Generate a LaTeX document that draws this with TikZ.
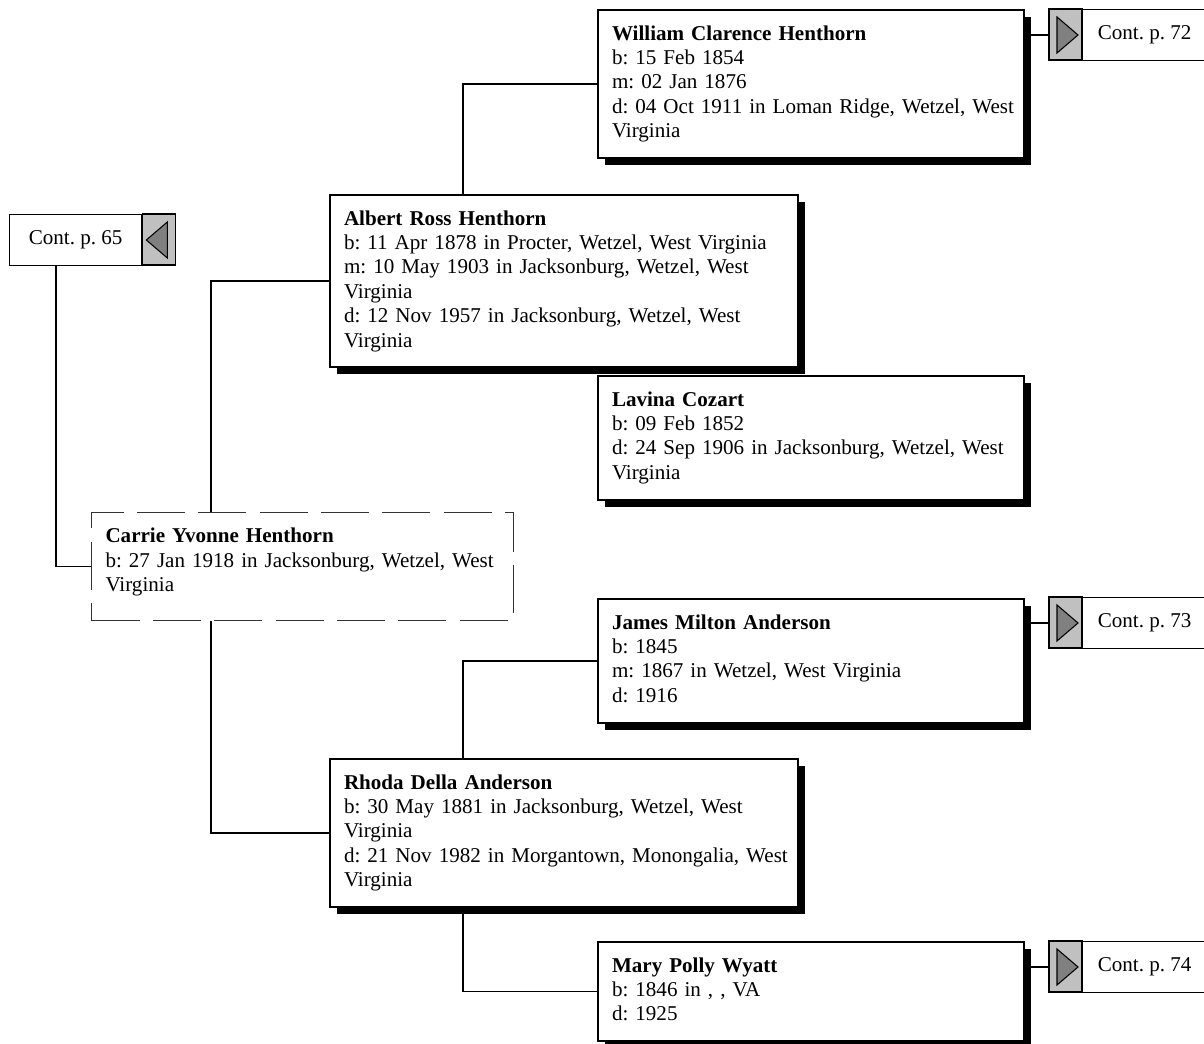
\documentclass[tikz,border=0pt]{standalone}
\usepackage{fontspec}
\setmainfont{Liberation Serif}
\usetikzlibrary{shadows, backgrounds, calc}
\definecolor{ContGray}{RGB}{192,192,192}
\definecolor{ArrowGray}{RGB}{128,128,128}
\newcommand{\facts}[1]{\begin{tabular}{@{}l@{}}#1\end{tabular}}

\begin{document}
\begin{tikzpicture}[
        x=0.75pt, y=-0.75pt,
        font=\fontsize{15.8}{18.3}\selectfont\frenchspacing,
        person/.style={rectangle, draw=black, fill=white, line width=1.5pt, anchor=north west, align=left, inner xsep=10.5pt, inner ysep=9.75pt, drop shadow={shadow xshift=5.25pt, shadow yshift=-5.25pt, fill=black, opacity=1}},
        child/.style={person, text width=298.5pt},
        parent/.style={person, text width=330pt},
        root/.style={rectangle, draw=black!80, dash pattern=on 36pt off 10pt, line width=0.8pt, anchor=north west, align=left, inner xsep=10.5pt, inner ysep=9.75pt, text width=295.5pt},
        cont/.style={rectangle, draw=black, fill=white, line width=1pt, anchor=north west, minimum width=#1, minimum height=38.25pt, inner sep=0pt},
        link/.style={line width=1.2pt, black}
    ]
        \clip (0,0) rectangle (1204,1044);

        % Grandparents (father's side)
        \node[child] (william) at (597,9) {\facts{\textbf{William Clarence Henthorn}\\ b: 15 Feb 1854\\ m: 02 Jan 1876\\ d: 04 Oct 1911 in Loman Ridge, Wetzel, West\\ Virginia}};
        \node[parent] (albert) at (329,194) {\facts{\textbf{Albert Ross Henthorn}\\ b: 11 Apr 1878 in Procter, Wetzel, West Virginia\\ m: 10 May 1903 in Jacksonburg, Wetzel, West\\ Virginia\\ d: 12 Nov 1957 in Jacksonburg, Wetzel, West\\ Virginia}};
        \node[child] (lavina) at (597,375) {\facts{\textbf{Lavina Cozart}\\ b: 09 Feb 1852\\ d: 24 Sep 1906 in Jacksonburg, Wetzel, West\\ Virginia}};

        % Root person
        \node[root] (carrie) at (91,512) {\facts{\textbf{Carrie Yvonne Henthorn}\\ b: 27 Jan 1918 in Jacksonburg, Wetzel, West\\ Virginia\\[6.75pt]}};

        % Grandparents (mother's side)
        \node[child] (james) at (597,598) {\facts{\textbf{James Milton Anderson}\\ b: 1845\\ m: 1867 in Wetzel, West Virginia\\ d: 1916}};
        \node[parent] (rhoda) at (329,758) {\facts{\textbf{Rhoda Della Anderson}\\ b: 30 May 1881 in Jacksonburg, Wetzel, West\\ Virginia\\ d: 21 Nov 1982 in Morgantown, Monongalia, West\\ Virginia}};
        \node[child] (mary) at (597,941) {\facts{\textbf{Mary Polly Wyatt}\\ b: 1846 in , , VA\\ d: 1925}};

        % Continuation boxes
        \node[cont=99pt] (c65) at (9,214) {Cont. p. 65};
        \node[cont=93pt] (c72) at (1082,9) {Cont. p. 72};
        \node[cont=93pt] (c73) at (1082,597) {Cont. p. 73};
        \node[cont=93pt] (c74) at (1082,941) {Cont. p. 74};
        \begin{scope}[shift={(c65.north east)}]
            \draw[line width=1pt, fill=ContGray] (0,0) rectangle (33,51);
            \draw[line width=0.8pt, fill=ArrowGray] (25,8) -- (25,44) -- (4,26) -- cycle;
        \end{scope}
        \foreach \c in {c72, c73, c74} {
            \begin{scope}[shift={(\c.north west)}]
                \draw[line width=1pt, fill=ContGray] (-33,0) rectangle (0,51);
                \draw[line width=0.8pt, fill=ArrowGray] (-25,8) -- (-25,44) -- (-4,26) -- cycle;
            \end{scope}
        }

        % Connections
        \begin{scope}[on background layer]
            \draw[link] ([xshift=35.25pt]c65.south west) |- (carrie.west);
            \draw[link] ([xshift=90pt]carrie.north west) |- (albert.west);
            \draw[link] ([xshift=90pt]carrie.south west) |- (rhoda.west);
            \draw[link] ([xshift=100.5pt]albert.north west) |- (william.west);
            \draw[link] ([xshift=100.5pt]rhoda.north west) |- (james.west);
            \draw[link] ([xshift=100.5pt]rhoda.south west) |- (mary.west);
            \foreach \p/\c in {william/c72, james/c73, mary/c74}
                \draw[link] (\p.east |- \c.west) -- ([xshift=-24.75pt]\c.west);
        \end{scope}
    \end{tikzpicture}
\end{document}
